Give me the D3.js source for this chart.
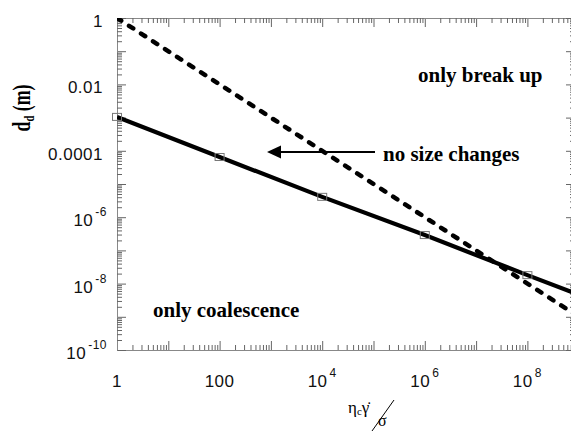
<!DOCTYPE html>
<html><head><meta charset="utf-8">
<script src="https://cdn.jsdelivr.net/npm/d3@7"></script>
<style>body{margin:0;background:#fff}svg{display:block}</style>
</head><body>
<svg id="c" width="571" height="432"></svg>
<script>
// ---- data ----
const xTicks = [1, 100, 1e4, 1e6, 1e8];
const xTickLabels = [["1",""],["100",""],["10","4"],["10","6"],["10","8"]];
const yTicks = [1, 1e-2, 1e-4, 1e-6, 1e-8, 1e-10];
const yTickLabels = [["1",""],["0.01",""],["0.0001",""],["10","-6"],["10","-8"],["10","-10"]];
const solidX = [1, 100, 1e4, 1e6, 1e8, 1e9];
const solidY = [1.05e-3, 6.5e-5, 4.1e-6, 2.9e-7, 1.8e-8, 4.6e-9];
const dashedX = [1, 1e9];
const dashedY = [1, 1e-9];
const markerX = [1, 100, 1e4, 1e6, 1e8];
const markerY = [1.05e-3, 6.5e-5, 4.1e-6, 2.9e-7, 1.8e-8];

// ---- layout ----
const L = 117, T = 18, B = 350, R = 575;
const svg = d3.select("#c");
const x = d3.scaleLog().domain([1, 1e9]).range([L, L + 9 * 51.3]);
const y = d3.scaleLog().domain([1e-10, 1]).range([B, T]);

const decX = d3.range(0, 9).map(d => Math.pow(10, d));
const minX = [];
for (let d = 0; d < 9; d++) for (let k = 2; k <= 9; k++) minX.push(k * Math.pow(10, d));
const decY = d3.range(-10, 1).map(d => Math.pow(10, d));
const minY = [];
for (let d = -10; d < 0; d++) for (let k = 2; k <= 9; k++) minY.push(k * Math.pow(10, d));

const axCol = "#666";
function style(g) {
  g.select(".domain").attr("stroke", "#888");
  g.selectAll(".tick line").attr("stroke", axCol);
  g.selectAll(".tick text").remove();
}
svg.append("g").attr("transform", `translate(0,${B})`).call(d3.axisBottom(x).tickValues(decX).tickSize(-9).tickSizeOuter(0).tickFormat("")).call(style);
svg.append("g").attr("transform", `translate(0,${B})`).call(d3.axisBottom(x).tickValues(minX).tickSize(-5).tickSizeOuter(0).tickFormat("")).call(style);
svg.append("g").attr("transform", `translate(0,${T})`).call(d3.axisTop(x).tickValues(decX).tickSize(-9).tickSizeOuter(0).tickFormat("")).call(style);
svg.append("g").attr("transform", `translate(0,${T})`).call(d3.axisTop(x).tickValues(minX).tickSize(-5).tickSizeOuter(0).tickFormat("")).call(style);
svg.append("g").attr("transform", `translate(${L},0)`).call(d3.axisLeft(y).tickValues(decY).tickSize(-9).tickSizeOuter(0).tickFormat("")).call(style);
svg.append("g").attr("transform", `translate(${L},0)`).call(d3.axisLeft(y).tickValues(minY).tickSize(-5).tickSizeOuter(0).tickFormat("")).call(style);
svg.append("g").attr("transform", `translate(${R},0)`).call(d3.axisRight(y).tickValues(decY).tickSize(-9).tickSizeOuter(0).tickFormat("")).call(style);
svg.append("g").attr("transform", `translate(${R},0)`).call(d3.axisRight(y).tickValues(minY).tickSize(-5).tickSizeOuter(0).tickFormat("")).call(style);

// tick labels
const tf = "'Liberation Sans', Arial, sans-serif";
xTicks.forEach((v, i) => {
  const t = svg.append("text").attr("x", x(v)).attr("y", 387).attr("text-anchor", "middle")
    .attr("font-family", tf).attr("font-size", 17).attr("letter-spacing", 0.5).attr("fill", "#111");
  t.append("tspan").text(xTickLabels[i][0]);
  if (xTickLabels[i][1]) t.append("tspan").attr("dy", -10).attr("dx", 2).attr("font-size", 12).text(xTickLabels[i][1]);
});
yTicks.forEach((v, i) => {
  const sup = yTickLabels[i][1];
  const t = svg.append("text").attr("x", sup ? 107 : 103).attr("y", y(v) + 9).attr("text-anchor", "end")
    .attr("font-family", tf).attr("font-size", 17).attr("letter-spacing", 0.5).attr("fill", "#111");
  t.append("tspan").text(yTickLabels[i][0]);
  if (sup) t.append("tspan").attr("dy", -10).attr("dx", 2).attr("font-size", 12).text(sup);
});

// clip
svg.append("clipPath").attr("id", "clip").append("rect").attr("x", L).attr("y", T).attr("width", R - L).attr("height", B - T);
const plot = svg.append("g").attr("clip-path", "url(#clip)");

// markers (not clipped)
svg.append("g").selectAll("rect").data(markerX.map((v, i) => [v, markerY[i]])).join("rect")
  .attr("x", d => x(d[0]) - 4.5).attr("y", d => y(d[1]) - 3.5).attr("width", 9).attr("height", 7)
  .attr("fill", "none").attr("stroke", "#777").attr("stroke-width", 1);

const line = d3.line().x(d => x(d[0])).y(d => y(d[1]));
plot.append("path").attr("d", line(dashedX.map((v, i) => [v, dashedY[i]])))
  .attr("fill", "none").attr("stroke", "#000").attr("stroke-width", 4.5)
  .attr("stroke-dasharray", "5,9.3").attr("stroke-linecap", "round");
plot.append("path").attr("d", line(solidX.map((v, i) => [v, solidY[i]])))
  .attr("fill", "none").attr("stroke", "#000").attr("stroke-width", 4.2);

// annotations
const sf = "'Liberation Serif', 'Times New Roman', serif";
function ann(tx, ax, ay) {
  svg.append("text").attr("x", ax).attr("y", ay).attr("font-family", sf).attr("font-weight", "bold")
    .attr("font-size", 21).attr("fill", "#000").text(tx);
}
ann("only break up", 418, 82);
ann("no size changes", 383, 161);
ann("only coalescence", 153, 317);

// arrow
svg.append("line").attr("x1", 375).attr("y1", 152).attr("x2", 278).attr("y2", 152).attr("stroke", "#000").attr("stroke-width", 2);
svg.append("path").attr("d", "M267,152 L281,145.5 L281,158.5 Z").attr("fill", "#000");

// y label
const yl = svg.append("text").attr("transform", "translate(30,108) rotate(-90)").attr("text-anchor", "middle")
  .attr("font-family", sf).attr("font-weight", "bold").attr("font-size", 25).attr("fill", "#000")
  .attr("textLength", 47).attr("lengthAdjust", "spacingAndGlyphs");
yl.append("tspan").text("d");
yl.append("tspan").attr("font-size", 15).attr("dy", 4).text("d");
yl.append("tspan").attr("dy", -4).text(" (m)");

// x label
const xl = svg.append("text").attr("x", 348).attr("y", 413).attr("font-family", sf).attr("font-size", 17).attr("fill", "#000");
xl.append("tspan").text("η");
xl.append("tspan").attr("font-size", 11).attr("dy", 2).text("c");
xl.append("tspan").attr("dy", -2).text("γ\u0307");
svg.append("line").attr("x1", 394).attr("y1", 400).attr("x2", 372).attr("y2", 431).attr("stroke", "#000").attr("stroke-width", 1);
svg.append("text").attr("x", 378).attr("y", 426).attr("font-family", sf).attr("font-size", 16).attr("fill", "#000").text("σ");
</script>
</body></html>
